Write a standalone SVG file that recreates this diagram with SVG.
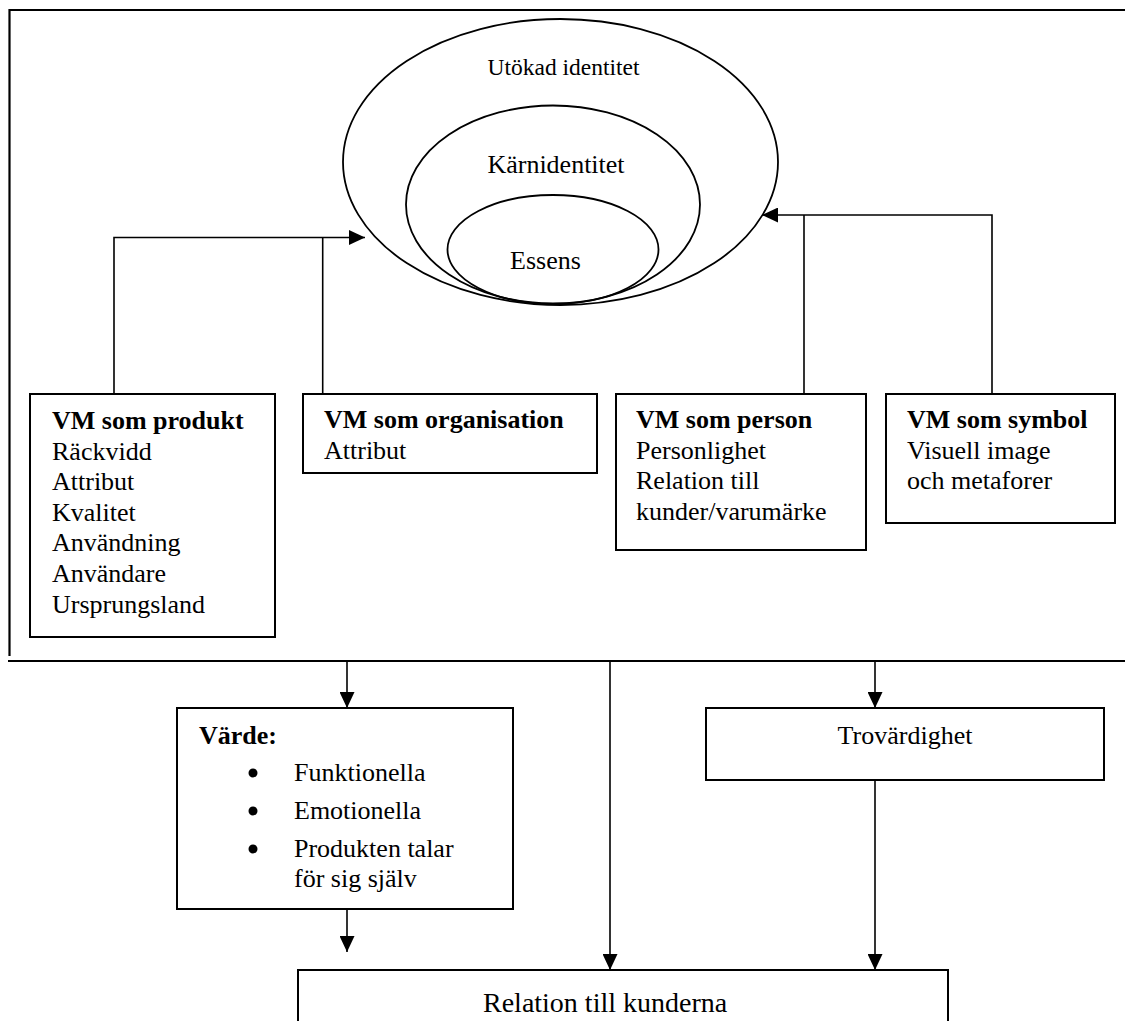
<svg xmlns="http://www.w3.org/2000/svg" width="1125" height="1021" viewBox="0 0 1125 1021">
<style>
text{font-family:"Liberation Serif","Times New Roman",serif;font-size:26px;fill:#000}
.b{font-weight:bold}
.box{fill:#fff;stroke:#000;stroke-width:2}
.ell{fill:none;stroke:#000;stroke-width:1.8}
.frame{fill:none;stroke:#000;stroke-width:2.2}
.con{fill:none;stroke:#000;stroke-width:1.6}
.mid{text-anchor:middle}
</style>
<defs>
<marker id="arr" viewBox="0 0 16 15" refX="16" refY="7.5" markerWidth="16" markerHeight="15" markerUnits="userSpaceOnUse" orient="auto">
<path d="M0,0 L16,7.5 L0,15 z" fill="#000"/>
</marker>
</defs>
<rect width="1125" height="1021" fill="#fff"/>
<g id="frame">
<path class="frame" d="M9.5,656 V10 H1125"/>
<path class="frame" d="M8,661 H1125"/>
</g>
<g id="identity">
<ellipse class="ell" cx="560.5" cy="162" rx="217.5" ry="143"/>
<ellipse class="ell" cx="553" cy="204.5" rx="147" ry="99"/>
<ellipse class="ell" cx="553" cy="249.5" rx="105.5" ry="54.5"/>
<text class="mid" x="563.5" y="75" style="font-size:23.5px">Utökad identitet</text>
<text class="mid" x="556" y="173">Kärnidentitet</text>
<text class="mid" x="545.5" y="269">Essens</text>
</g>
<g id="connectors">
<path class="con" d="M114,394 V237.5 H365" marker-end="url(#arr)"/>
<path class="con" d="M322.7,394 V237.5"/>
<path class="con" d="M992,394 V215 H762" marker-end="url(#arr)"/>
<path class="con" d="M804,394 V215"/>
<path class="con" d="M347,661 V708" marker-end="url(#arr)"/>
<path class="con" d="M610,661 V970" marker-end="url(#arr)"/>
<path class="con" d="M875,661 V708" marker-end="url(#arr)"/>
<path class="con" d="M347,909 V952" marker-end="url(#arr)"/>
<path class="con" d="M875,780 V970" marker-end="url(#arr)"/>
</g>
<g id="vm-produkt">
<rect class="box" x="30" y="394" width="245" height="243"/>
<text class="b" x="52" y="429">VM som produkt</text>
<text x="52" y="460">Räckvidd</text>
<text x="52" y="490">Attribut</text>
<text x="52" y="521">Kvalitet</text>
<text x="52" y="551">Användning</text>
<text x="52" y="582">Användare</text>
<text x="52" y="613">Ursprungsland</text>
</g>
<g id="vm-organisation">
<rect class="box" x="303" y="394" width="294" height="79"/>
<text class="b" x="324" y="428">VM som organisation</text>
<text x="324" y="459">Attribut</text>
</g>
<g id="vm-person">
<rect class="box" x="616" y="394" width="250" height="156"/>
<text class="b" x="636" y="428">VM som person</text>
<text x="636" y="459">Personlighet</text>
<text x="636" y="489">Relation till</text>
<text x="636" y="520">kunder/varumärke</text>
</g>
<g id="vm-symbol">
<rect class="box" x="886" y="394" width="229" height="129"/>
<text class="b" x="907" y="428">VM som symbol</text>
<text x="907" y="459">Visuell image</text>
<text x="907" y="489">och metaforer</text>
</g>
<g id="varde">
<rect class="box" x="177" y="708" width="336" height="201"/>
<text class="b" x="199" y="744">Värde:</text>
<circle cx="253" cy="773" r="4.5"/>
<circle cx="253" cy="811" r="4.5"/>
<circle cx="253" cy="849" r="4.5"/>
<text x="294" y="781">Funktionella</text>
<text x="294" y="819">Emotionella</text>
<text x="294" y="857">Produkten talar</text>
<text x="294" y="887">för sig själv</text>
</g>
<g id="trovardighet">
<rect class="box" x="706" y="708" width="398" height="72"/>
<text class="mid" x="905" y="744">Trovärdighet</text>
</g>
<g id="relation">
<rect class="box" x="298" y="970" width="650" height="70"/>
<text x="483" y="1012" style="font-size:28px">Relation till kunderna</text>
</g>
</svg>
